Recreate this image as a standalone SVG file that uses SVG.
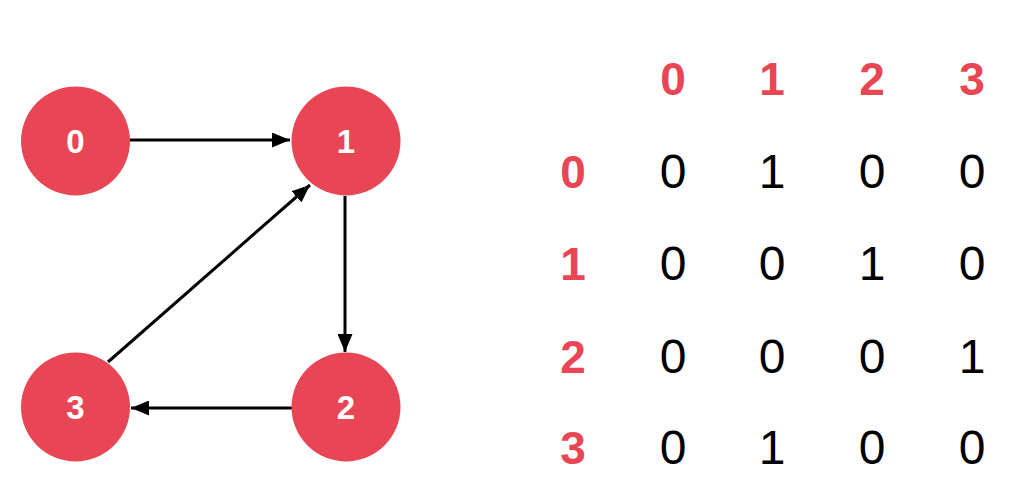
<svg xmlns="http://www.w3.org/2000/svg" width="1010" height="498" viewBox="0 0 1010 498">
  <style>
    .node circle { fill: #e84654; }
    .node text { fill: #ffffff; font-family: "Liberation Sans", Arial, sans-serif; font-weight: bold; font-size: 33px; text-anchor: middle; }
    .edge { stroke: #000000; stroke-width: 3; fill: none; marker-end: url(#arrow); }
    .hdr { fill: #e84654; font-family: "Liberation Sans", Arial, sans-serif; font-weight: bold; font-size: 46px; text-anchor: middle; }
    .cell { fill: #000000; font-family: "Liberation Sans", Arial, sans-serif; font-size: 48px; text-anchor: middle; }
  </style>
  <defs>
    <marker id="arrow" markerWidth="6" markerHeight="5" refX="6" refY="2.5" orient="auto" markerUnits="strokeWidth">
      <path d="M0,0 L6,2.5 L0,5 Z" fill="#000000"/>
    </marker>
  </defs>
  <rect width="1010" height="498" fill="#ffffff"/>

  <!-- directed edges -->
  <g id="edges">
    <line class="edge" x1="130" y1="140" x2="290" y2="140"/>
    <line class="edge" x1="345" y1="196" x2="345" y2="352"/>
    <line class="edge" x1="292" y1="408" x2="131" y2="408"/>
    <line class="edge" x1="108" y1="362" x2="310" y2="185"/>
  </g>

  <!-- vertices -->
  <g id="node-0" class="node">
    <circle cx="75.5" cy="141" r="54.5"/>
    <text x="75.5" y="153">0</text>
  </g>
  <g id="node-1" class="node">
    <circle cx="346" cy="141" r="54.5"/>
    <text x="346" y="153">1</text>
  </g>
  <g id="node-2" class="node">
    <circle cx="346" cy="407" r="54.5"/>
    <text x="346" y="419">2</text>
  </g>
  <g id="node-3" class="node">
    <circle cx="75.5" cy="407" r="54.5"/>
    <text x="75.5" y="419">3</text>
  </g>

  <!-- adjacency matrix -->
  <g id="matrix">
    <text class="hdr" x="673" y="95">0</text>
    <text class="hdr" x="772" y="95">1</text>
    <text class="hdr" x="872" y="95">2</text>
    <text class="hdr" x="972" y="95">3</text>

    <text class="hdr" x="573" y="188">0</text>
    <text class="hdr" x="573" y="280">1</text>
    <text class="hdr" x="573" y="373">2</text>
    <text class="hdr" x="573" y="464">3</text>

    <text class="cell" x="673" y="188">0</text>
    <text class="cell" x="772" y="188">1</text>
    <text class="cell" x="872" y="188">0</text>
    <text class="cell" x="972" y="188">0</text>

    <text class="cell" x="673" y="280">0</text>
    <text class="cell" x="772" y="280">0</text>
    <text class="cell" x="872" y="280">1</text>
    <text class="cell" x="972" y="280">0</text>

    <text class="cell" x="673" y="373">0</text>
    <text class="cell" x="772" y="373">0</text>
    <text class="cell" x="872" y="373">0</text>
    <text class="cell" x="972" y="373">1</text>

    <text class="cell" x="673" y="464">0</text>
    <text class="cell" x="772" y="464">1</text>
    <text class="cell" x="872" y="464">0</text>
    <text class="cell" x="972" y="464">0</text>
  </g>
</svg>
